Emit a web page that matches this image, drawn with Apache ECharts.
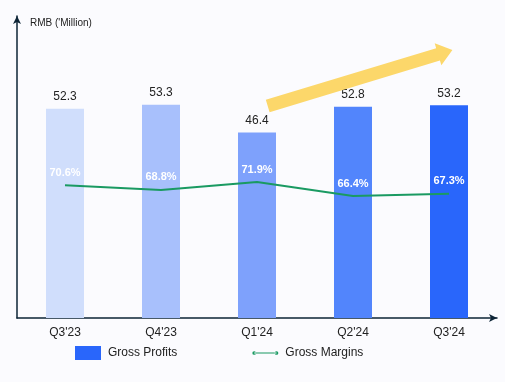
<!DOCTYPE html>
<html>
<head>
<meta charset="utf-8">
<script src="https://cdn.jsdelivr.net/npm/echarts@6/dist/echarts.min.js"></script>
<style>
html,body{margin:0;padding:0;background:#fbfbfe;}
#c{width:505px;height:382px;}
</style>
</head>
<body>
<div id="c"></div>
<script>
var categories = ["Q3'23", "Q4'23", "Q1'24", "Q2'24", "Q3'24"];
var grossProfits = [52.3, 53.3, 46.4, 52.8, 53.2];
var grossMargins = [70.6, 68.8, 71.9, 66.4, 67.3];
var barColors = ['#d0defc', '#a8c0fc', '#7ea1fc', '#5285fc', '#2966fb'];

var font = 'Liberation Sans, Arial, sans-serif';
var chart = echarts.init(document.getElementById('c'));

var L = 193;
var lineIcon = 'path://M2,1.4 L26,1.4 L26,2.6 L2,2.6 Z M0,2 A2,2 0 1,0 4,2 A2,2 0 1,0 0,2 Z M24,2 A2,2 0 1,0 28,2 A2,2 0 1,0 24,2 Z';
chart.setOption({
  backgroundColor: '#fbfbfe',
  animation: false,
  textStyle: {fontFamily: font},
  grid: {left: 17, right: 8, top: 16, bottom: 64},
  legend: {
    data: [
      {name: 'Gross Profits', icon: 'rect', itemStyle: {color: '#2966fb'}},
      {name: 'Gross Margins', icon: lineIcon, itemStyle: {color: '#1a9a62'}}
    ],
    left: 70, top: 341,
    itemGap: 75,
    itemWidth: 26, itemHeight: 14,
    textStyle: {fontSize: 12, color: '#222', fontFamily: font, padding: [0, 0, 0, 2]}
  },
  xAxis: {
    type: 'category',
    data: categories,
    axisLine: {lineStyle: {color: '#0d2436', width: 1.5}, symbol: ['none', 'arrow'], symbolSize: [6, 8]},
    axisTick: {show: false},
    axisLabel: {color: '#222', fontSize: 12, margin: 9, fontFamily: font}
  },
  yAxis: [
    {
      type: 'value', min: 0, max: 75.5,
      name: "RMB ('Million)",
      nameLocation: 'end',
      nameGap: -12,
      nameTextStyle: {color: '#222', fontSize: 10, align: 'left', padding: [0, 0, 0, 13], fontFamily: font},
      axisLine: {show: true, lineStyle: {color: '#0d2436', width: 1.5}, symbol: ['none', 'arrow'], symbolSize: [6, 8]},
      axisTick: {show: false},
      axisLabel: {show: false},
      splitLine: {show: false}
    },
    {
      type: 'value', min: 18.6, max: 137, show: false, splitLine: {show: false}
    }
  ],
  series: [
    {
      name: 'Gross Profits',
      type: 'bar',
      barWidth: 38,
      data: grossProfits.map(function (v, i) { return {value: v, itemStyle: {color: barColors[i]}}; }),
      itemStyle: {color: '#2966fb'},
      label: {show: true, position: 'top', color: '#222', fontSize: 12, distance: 6, fontFamily: font},
      z: 2
    },
    {
      name: 'Gross Margins',
      type: 'line',
      yAxisIndex: 1,
      data: grossMargins,
      showSymbol: true,
      symbol: 'circle',
      symbolSize: 0.1,
      itemStyle: {color: '#1a9a62'},
      lineStyle: {color: '#1a9a62', width: 2},
      label: {
        show: true, position: 'top', distance: 7,
        color: '#fff', fontWeight: 'bold', fontSize: 11, fontFamily: font,
        formatter: function (p) { return p.value.toFixed(1) + '%'; }
      },
      z: 3
    }
  ],
  graphic: [
    {
      type: 'polygon',
      x: 267.7, y: 106,
      rotation: 0.2943,
      shape: {points: [[0, -6.5], [L - 15, -6.5], [L - 15, -11.5], [L, 0], [L - 15, 11.5], [L - 15, 6.5], [0, 6.5]]},
      style: {fill: '#fcd76a'},
      z: 10
    }
  ]
});
</script>
</body>
</html>
